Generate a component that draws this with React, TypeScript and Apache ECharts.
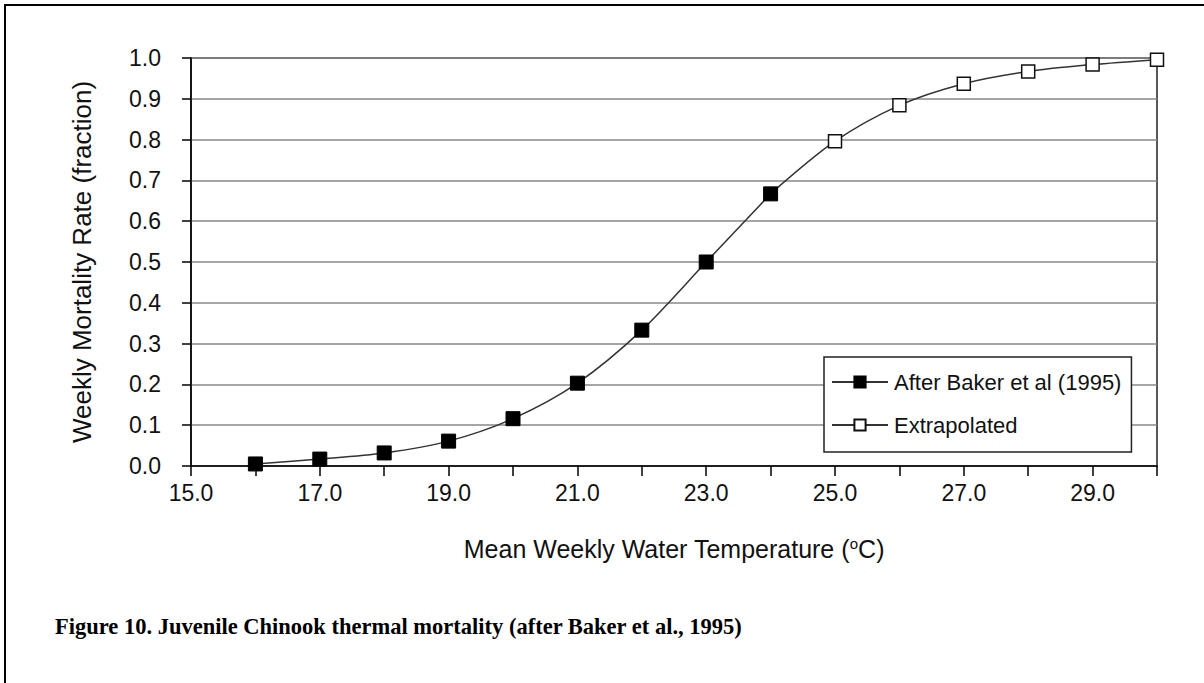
import React, { useEffect, useRef } from "react";
import * as echarts from "echarts";

const bakerTemps = [16, 17, 18, 19, 20, 21, 22, 23, 24];
const bakerRates = [0.005, 0.017, 0.032, 0.061, 0.116, 0.203, 0.333, 0.5, 0.667];
const extraTemps = [24, 25, 26, 27, 28, 29, 30];
const extraRates = [0.667, 0.796, 0.884, 0.937, 0.967, 0.984, 0.996];

const seriesNames = ["After Baker et al (1995)", "Extrapolated"];
const yAxisTitle = "Weekly Mortality Rate (fraction)";
const caption = "Figure 10. Juvenile Chinook thermal mortality (after Baker et al., 1995)";

const FONT = "'Liberation Sans', Arial, sans-serif";

export default function App() {
  const ref = useRef<HTMLDivElement>(null);
  useEffect(() => {
    if (!ref.current) return;
    const chart = echarts.init(ref.current, null, { renderer: "svg" });
    const bakerData = bakerTemps.map((t, i) => [t, bakerRates[i]]);
    const extraData = extraTemps.map((t, i) =>
      i === 0 ? { value: [t, extraRates[i]], symbol: "none" } : [t, extraRates[i]]
    );
    chart.setOption({
      animation: false,
      backgroundColor: "#fff",
      textStyle: { fontFamily: FONT },
      grid: { left: 191, right: 47, top: 58, bottom: 217, show: true, borderColor: "#222", borderWidth: 1.5, backgroundColor: "transparent" },
      legend: {
        orient: "vertical",
        left: 824,
        top: 357,
        padding: [13, 10, 15, 7],
        itemGap: 19,
        itemWidth: 56,
        itemHeight: 14,
        backgroundColor: "#fff",
        borderColor: "#222",
        borderWidth: 1.5,
        borderRadius: 0,
        textStyle: { fontFamily: FONT, fontSize: 22, lineHeight: 24, color: "#111", padding: [0, 0, 0, 1] },
        data: seriesNames,
      },
      xAxis: {
        type: "value",
        min: 15,
        max: 30,
        interval: 1,
        name: "Mean Weekly Water Temperature ({sup|o}C)",
        nameLocation: "middle",
        nameGap: 70,
        nameTextStyle: {
          fontFamily: FONT,
          fontSize: 25,
          color: "#111",
          rich: { sup: { fontFamily: FONT, fontSize: 15, color: "#111", verticalAlign: "top", padding: [0, 0, 9, 0] } },
        },
        axisLine: { show: true, lineStyle: { color: "#000", width: 1.5 } },
        axisTick: { show: true, inside: false, length: 10, lineStyle: { color: "#000", width: 1.5 } },
        axisLabel: {
          margin: 15,
          fontFamily: FONT,
          fontSize: 23,
          color: "#111",
          formatter: (v: number) => (Math.round(v) % 2 === 1 ? v.toFixed(1) : ""),
        },
        splitLine: { show: false },
      },
      yAxis: {
        type: "value",
        min: 0,
        max: 1,
        interval: 0.1,
        name: yAxisTitle,
        nameLocation: "middle",
        nameGap: 96,
        nameTextStyle: { fontFamily: FONT, fontSize: 26, color: "#111" },
        axisLine: { show: true, lineStyle: { color: "#000", width: 1.5 } },
        axisTick: { show: true, inside: false, length: 9, lineStyle: { color: "#000", width: 1.5 } },
        axisLabel: { margin: 30, fontFamily: FONT, fontSize: 23, color: "#111", formatter: (v: number) => v.toFixed(1) },
        splitLine: { show: true, lineStyle: { color: "#888", width: 1.5 } },
      },
      series: [
        {
          name: seriesNames[1],
          type: "line",
          data: extraData,
          smooth: 0.3,
          symbol: "rect",
          symbolSize: 13,
          z: 3,
          lineStyle: { color: "#333", width: 1.5 },
          itemStyle: { color: "#fff", borderColor: "#111", borderWidth: 1.5 },
        },
        {
          name: seriesNames[0],
          type: "line",
          data: bakerData,
          smooth: 0.3,
          symbol: "rect",
          symbolSize: 14,
          z: 4,
          lineStyle: { color: "#333", width: 1.5 },
          itemStyle: { color: "#000", borderColor: "#000", borderWidth: 1 },
        },
      ],
      graphic: [
        {
          type: "rect",
          silent: true,
          shape: { x: 5, y: 5, width: 1400, height: 1000 },
          style: { fill: "none", stroke: "#000", lineWidth: 2 },
        },
        {
          type: "text",
          left: 55,
          top: 615,
          silent: true,
          style: { text: caption, font: "bold 22.5px 'Liberation Serif', 'Times New Roman', serif", fill: "#000" },
        },
      ],
    });
    return () => chart.dispose();
  }, []);
  return <div ref={ref} style={{ position: "fixed", left: 0, top: 0, width: 1204, height: 683 }} />;
}
